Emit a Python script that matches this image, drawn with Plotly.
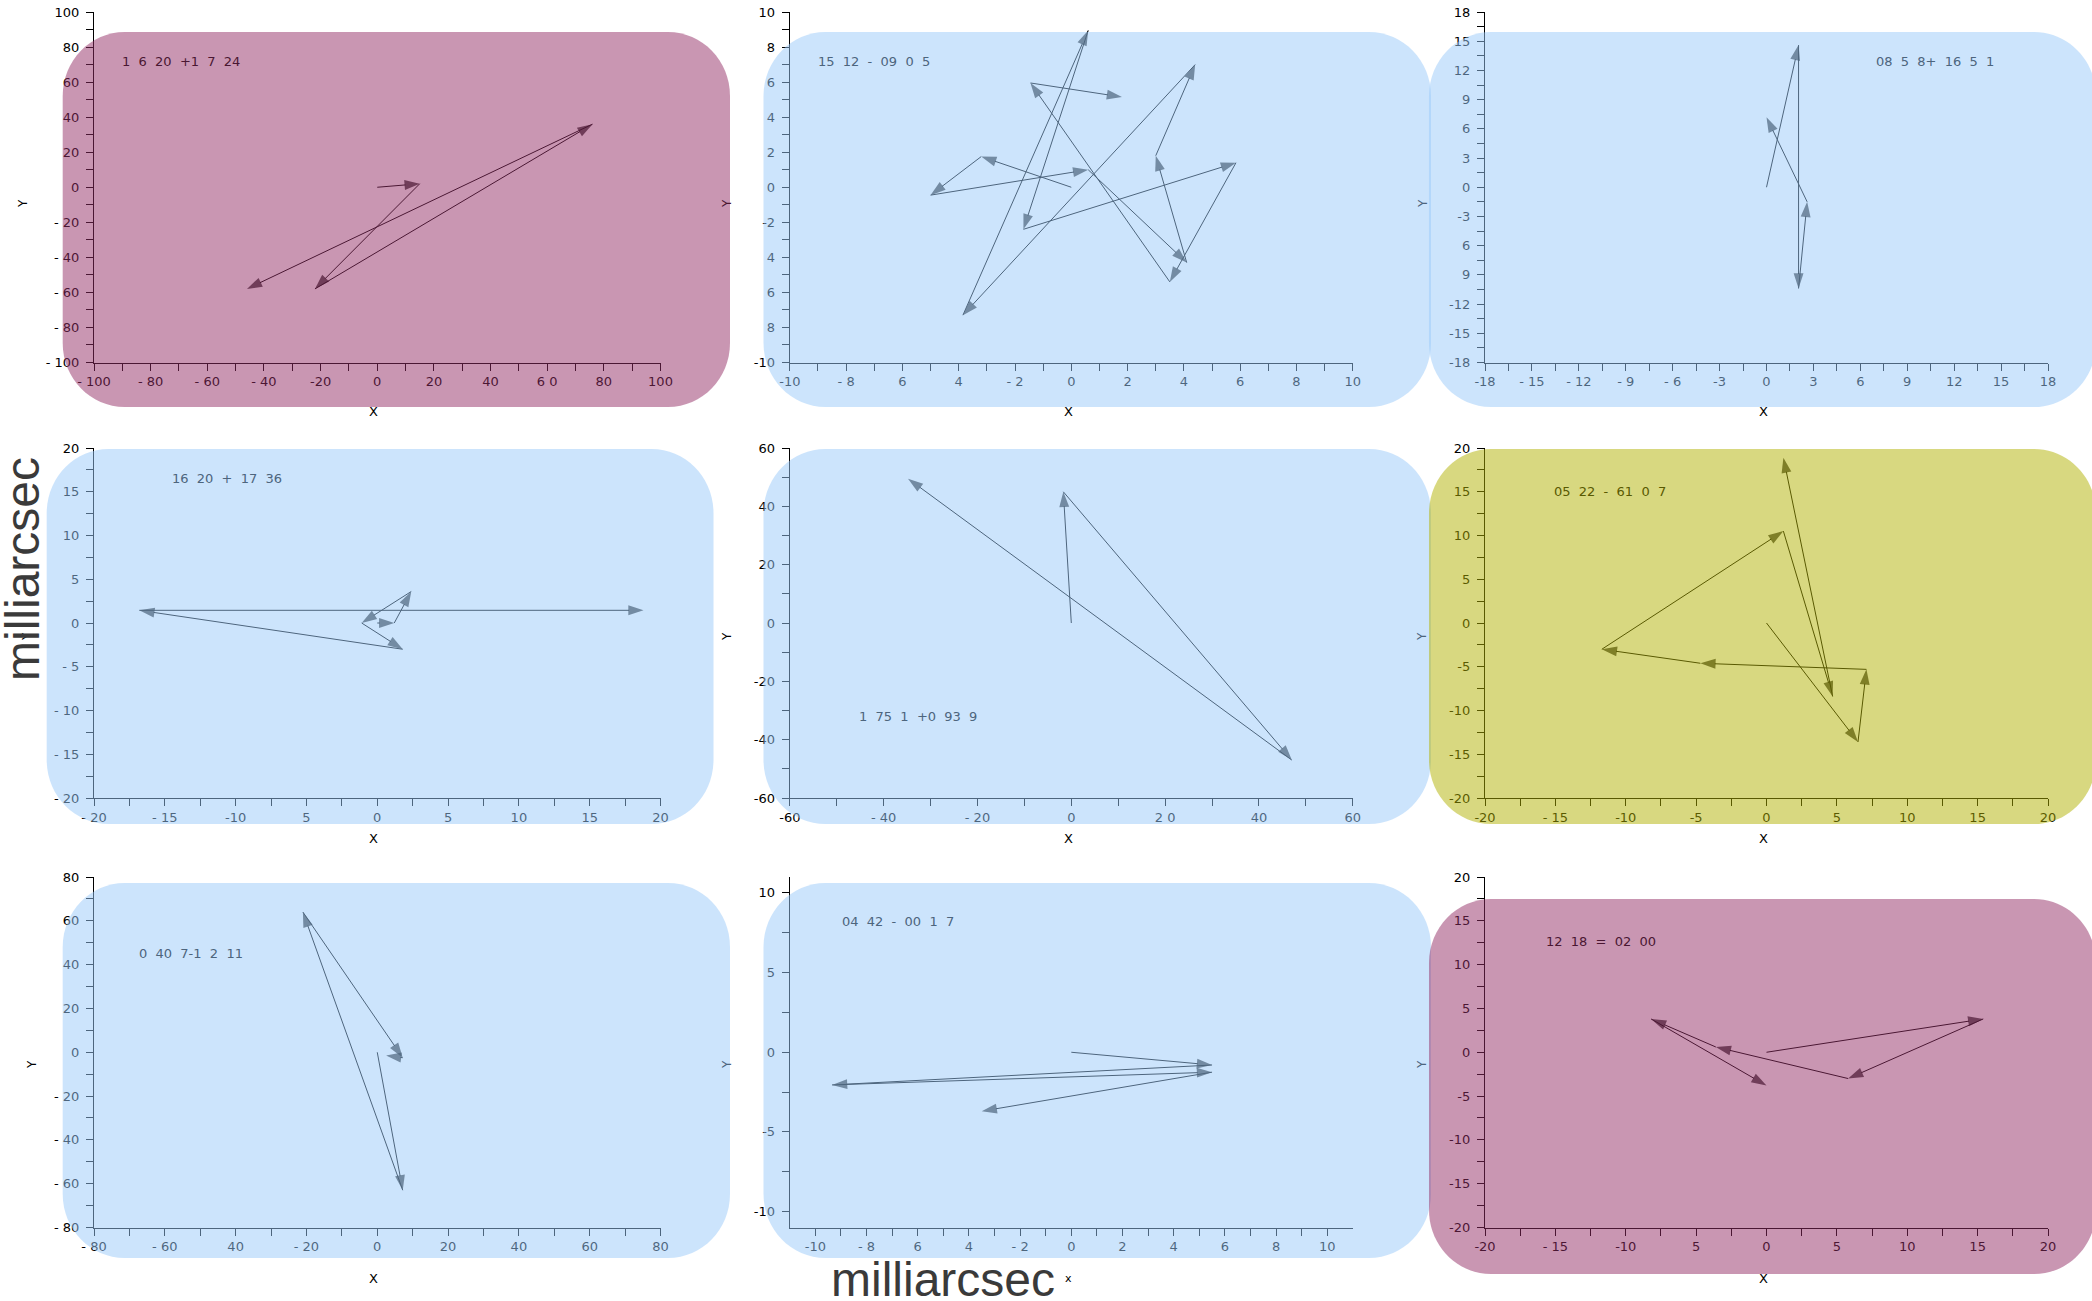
import plotly.graph_objects as go

W, H = 2092, 1301

# ---------------- data ----------------
P1_X = [0, 15, -22, 76, -46]
P1_Y = [0, 2, -58, 36, -58]

P2_X = [0, -3.2, -5.0, 0.6, 4.1, 3.0, 4.4, -3.85, 0.6, -1.7, 5.85, 3.5, -1.45, 1.8]
P2_Y = [0, 1.75, -0.45, 1.0, -4.3, 1.8, 7.0, -7.3, 8.95, -2.4, 1.4, -5.4, 5.95, 5.15]

P3_X = [0, 2.05, 2.05, 2.6, 0.0]
P3_Y = [0, 14.6, -10.4, -1.5, 7.2]

P4_X = [0, 1.2, 2.4, -1.1, 1.8, -16.8, 18.8]
P4_Y = [0, 0, 3.6, 0, -3.0, 1.45, 1.45]

P5_X = [0, -1.7, 47, -34.8]
P5_Y = [0, 45, -47, 49.5]

P6_X = [0, 6.5, 7.1, -4.7, -11.7, 1.2, 4.7, 1.2]
P6_Y = [0, -13.6, -5.3, -4.6, -3.0, 10.5, -8.4, 18.9]

P7_X = [0, 7.2, -21, 7.2, 2.5]
P7_Y = [0, -63, 64, -2.5, -1.5]

P8_X = [0, 5.5, -9.35, 5.5, -3.5]
P8_Y = [0, -0.8, -2.05, -1.25, -3.7]

P9_X = [0, 15.4, 5.8, -3.6, -8.2, 0]
P9_Y = [0, 3.8, -3.0, 0.6, 3.8, -3.8]

PANEL_TEXT = ["1 6 20 +1 7 24", "15 12 - 09 0 5", "08 5 8+ 16 5 1",
              "16 20 + 17 36", "1 75 1 +0 93 9", "05 22 - 61 0 7",
              "0 40 7-1 2 11", "04 42 - 00 1 7", "12 18 = 02 00"]

X1_LABELS = ["- 100", "- 80", "- 60", "- 40", "-20", "0", "20", "40", "6 0", "80", "100"]
Y1_LABELS = ["- 100", "- 80", "- 60", "- 40", "- 20", "0", "20", "40", "60", "80", "100"]
X2_LABELS = ["-10", "- 8", "6", "4", "- 2", "0", "2", "4", "6", "8", "10"]
Y2_LABELS = ["-10", "8", "6", "4", "-2", "0", "2", "4", "6", "8", "10"]
X3_LABELS = ["-18", "- 15", "- 12", "- 9", "- 6", "-3", "0", "3", "6", "9", "12", "15", "18"]
Y3_LABELS = ["-18", "-15", "-12", "9", "6", "-3", "0", "3", "6", "9", "12", "15", "18"]
X4_LABELS = ["- 20", "- 15", "-10", "5", "0", "5", "10", "15", "20"]
Y4_LABELS = ["- 20", "- 15", "- 10", "- 5", "0", "5", "10", "15", "20"]
X5_LABELS = ["-60", "- 40", "- 20", "0", "2 0", "40", "60"]
Y5_LABELS = ["-60", "-40", "-20", "0", "20", "40", "60"]
X6_LABELS = ["-20", "- 15", "-10", "-5", "0", "5", "10", "15", "20"]
Y6_LABELS = ["-20", "-15", "-10", "-5", "0", "5", "10", "15", "20"]
X7_LABELS = ["- 80", "- 60", "40", "- 20", "0", "20", "40", "60", "80"]
Y7_LABELS = ["- 80", "- 60", "- 40", "- 20", "0", "20", "40", "60", "80"]
X8_LABELS = ["-10", "- 8", "6", "4", "- 2", "0", "2", "4", "6", "8", "10"]
Y8_LABELS = ["-10", "-5", "0", "5", "10"]
X9_LABELS = ["-20", "- 15", "-10", "5", "0", "5", "10", "15", "20"]
Y9_LABELS = ["-20", "-15", "-10", "-5", "0", "5", "10", "15", "20"]

# ---------------- styling ----------------
FONT = "DejaVu Sans"
TICK_FONT = dict(family=FONT, size=13, color="black")
MAUVE = "rgba(147,45,101,0.5)"
BLUE = "rgba(153,201,249,0.5)"
OLIVE = "rgba(177,177,1,0.5)"
TINT = {"m": "rgb(74,23,50)", "b": "rgb(77,101,125)", "o": "rgb(89,89,1)"}
FILL = {"m": MAUVE, "b": BLUE, "o": OLIVE}


def px2paper_x(px):
    return px / W


def px2paper_y(py):
    return 1 - py / H


COL_DOM = [(94.0, 660.5), (789.8, 1352.8), (1485.0, 2048.0)]
ROW_DOM = [(12.0, 362.5), (448.0, 798.0), (877.0, 1227.5)]


def ticks(lo, hi, step, every, labels):
    n = int(round((hi - lo) / step))
    vals, text, k = [], [], 0
    for i in range(n + 1):
        vals.append(lo + i * step)
        if i % every == 0:
            text.append(labels[k])
            k += 1
        else:
            text.append("")
    return vals, text


panels = [
    (P1_X, P1_Y, [-100, 100], [-100, 100], (-100, 100, 10, 2, X1_LABELS), (-100, 100, 10, 2, Y1_LABELS), "m"),
    (P2_X, P2_Y, [-10, 10], [-10, 10], (-10, 10, 1, 2, X2_LABELS), (-10, 10, 1, 2, Y2_LABELS), "b"),
    (P3_X, P3_Y, [-18, 18], [-18, 18], (-18, 18, 1.5, 2, X3_LABELS), (-18, 18, 1.5, 2, Y3_LABELS), "b"),
    (P4_X, P4_Y, [-20, 20], [-20, 20], (-20, 20, 2.5, 2, X4_LABELS), (-20, 20, 2.5, 2, Y4_LABELS), "b"),
    (P5_X, P5_Y, [-60, 60], [-60, 60], (-60, 60, 10, 2, X5_LABELS), (-60, 60, 10, 2, Y5_LABELS), "b"),
    (P6_X, P6_Y, [-20, 20], [-20, 20], (-20, 20, 2.5, 2, X6_LABELS), (-20, 20, 2.5, 2, Y6_LABELS), "o"),
    (P7_X, P7_Y, [-80, 80], [-80, 80], (-80, 80, 10, 2, X7_LABELS), (-80, 80, 10, 2, Y7_LABELS), "b"),
    (P8_X, P8_Y, [-11, 11], [-11, 11], (-10, 10, 1, 2, X8_LABELS), (-10, 10, 2.5, 2, Y8_LABELS), "b"),
    (P9_X, P9_Y, [-20, 20], [-20, 20], (-20, 20, 2.5, 2, X9_LABELS), (-20, 20, 2.5, 2, Y9_LABELS), "m"),
]

RECTS = [
    (62.7, 32, 730, 407), (763.5, 32, 1431, 407), (1429, 32, 2096, 407),
    (46.7, 449, 713.5, 824), (763.5, 449, 1431, 824), (1429, 449, 2096, 824),
    (62.7, 883, 730, 1258), (763.5, 883, 1431, 1258), (1429, 899, 2096, 1274),
]

TEXT_POS = [(120, 61), (816, 61), (1874, 61), (170, 478), (857, 716),
            (1552, 491), (137, 953), (840, 921), (1544, 941)]

fig = go.Figure()
layout = dict(
    template="none",
    width=W, height=H, autosize=False,
    margin=dict(l=0, r=0, t=0, b=0, pad=0),
    paper_bgcolor="white", plot_bgcolor="rgba(0,0,0,0)",
    showlegend=False,
    font=dict(family=FONT, color="black"),
)

for i, (xs, ys, xr, yr, xt, yt, col) in enumerate(panels):
    n = i + 1
    r, c = divmod(i, 3)
    xname = "xaxis" if n == 1 else f"xaxis{n}"
    yname = "yaxis" if n == 1 else f"yaxis{n}"
    xref = "x" if n == 1 else f"x{n}"
    yref = "y" if n == 1 else f"y{n}"
    xv, xtxt = ticks(*xt)
    yv, ytxt = ticks(*yt)
    common = dict(showgrid=False, zeroline=False, showline=True, linecolor="black",
                  linewidth=1.2, ticks="outside", ticklen=7, tickwidth=1,
                  tickcolor="black", tickfont=TICK_FONT, tickmode="array",
                  fixedrange=True, automargin=False)
    layout[xname] = dict(common, domain=[px2paper_x(COL_DOM[c][0]), px2paper_x(COL_DOM[c][1])],
                         range=xr, tickvals=xv, ticktext=xtxt, anchor=yref)
    layout[yname] = dict(common, domain=[px2paper_y(ROW_DOM[r][1]), px2paper_y(ROW_DOM[r][0])],
                         range=yr, tickvals=yv, ticktext=ytxt, anchor=xref,
                         ticklabelstandoff=4)
    sizes = [0] + [16] * (len(xs) - 1)
    fig.add_trace(go.Scatter(
        x=xs, y=ys, xaxis=xref, yaxis=yref, mode="lines+markers",
        line=dict(color="black", width=1),
        marker=dict(symbol="arrow", size=sizes, angleref="previous",
                    color="black", line=dict(width=0)),
        hoverinfo="skip", cliponaxis=False,
    ))

shapes = []
k = 0.5523


def P(x, y):
    return f"{px2paper_x(x):.6f},{px2paper_y(y):.6f}"


for (x0, y0, x1, y1), p in zip(RECTS, panels):
    rx, ry = 62, 64
    path = (f"M {P(x0 + rx, y0)} L {P(x1 - rx, y0)} "
            f"C {P(x1 - rx + k * rx, y0)} {P(x1, y0 + ry - k * ry)} {P(x1, y0 + ry)} "
            f"L {P(x1, y1 - ry)} "
            f"C {P(x1, y1 - ry + k * ry)} {P(x1 - rx + k * rx, y1)} {P(x1 - rx, y1)} "
            f"L {P(x0 + rx, y1)} "
            f"C {P(x0 + rx - k * rx, y1)} {P(x0, y1 - ry + k * ry)} {P(x0, y1 - ry)} "
            f"L {P(x0, y0 + ry)} "
            f"C {P(x0, y0 + ry - k * ry)} {P(x0 + rx - k * rx, y0)} {P(x0 + rx, y0)} Z")
    shapes.append(dict(type="path", xref="paper", yref="paper", path=path,
                       fillcolor=FILL[p[6]], line=dict(width=0), layer="above"))
layout["shapes"] = shapes

ann = []
for (tx, ty), txt, p in zip(TEXT_POS, PANEL_TEXT, panels):
    wide = txt.replace(" ", "\u00a0\u00a0")
    ann.append(dict(xref="paper", yref="paper", x=px2paper_x(tx), y=px2paper_y(ty),
                    xanchor="left", yanchor="middle", text=wide, showarrow=False,
                    font=dict(family=FONT, size=13, color=TINT[p[6]])))

X_TITLE_Y = [412, 838, 1278]
X_TITLE_X = [373, 1068, 1763]
for r in range(3):
    for c in range(3):
        n = r * 3 + c
        txt = "x" if n == 7 else "X"
        ann.append(dict(xref="paper", yref="paper", x=px2paper_x(X_TITLE_X[c]),
                        y=px2paper_y(X_TITLE_Y[r]), text=txt, showarrow=False,
                        xanchor="center", yanchor="middle",
                        font=dict(family=FONT, size=11 if n == 7 else 13, color="black")))

Y_TITLES = [((23, 204), "black"), ((727, 204), TINT["m"]), ((1423, 204), TINT["b"]),
            ((27, 637), "black"), ((727, 637), "black"), ((1422, 637), TINT["b"]),
            ((32, 1065), "black"), ((727, 1065), TINT["b"]), ((1422, 1065), TINT["b"])]
for (yx, yy), colr in Y_TITLES:
    ann.append(dict(xref="paper", yref="paper", x=px2paper_x(yx), y=px2paper_y(yy),
                    text="Y", showarrow=False, textangle=-90, xanchor="center",
                    yanchor="middle",
                    font=dict(family=FONT, size=12, color=colr)))

ann.append(dict(xref="paper", yref="paper", x=px2paper_x(22), y=px2paper_y(569),
                text="milliarcsec", showarrow=False, textangle=-90,
                xanchor="center", yanchor="middle",
                font=dict(family="Liberation Sans", size=48, color="rgb(58,58,58)")))
ann.append(dict(xref="paper", yref="paper", x=px2paper_x(943), y=px2paper_y(1279),
                text="milliarcsec", showarrow=False,
                xanchor="center", yanchor="middle",
                font=dict(family="Liberation Sans", size=48, color="rgb(58,58,58)")))
layout["annotations"] = ann

fig.update_layout(**layout)
fig.write_html(
    "out.html",
    config={"displayModeBar": False},
    post_script="document.body.style.margin='0px';document.body.style.padding='0px';"
                "document.body.style.overflow='hidden';",
)
